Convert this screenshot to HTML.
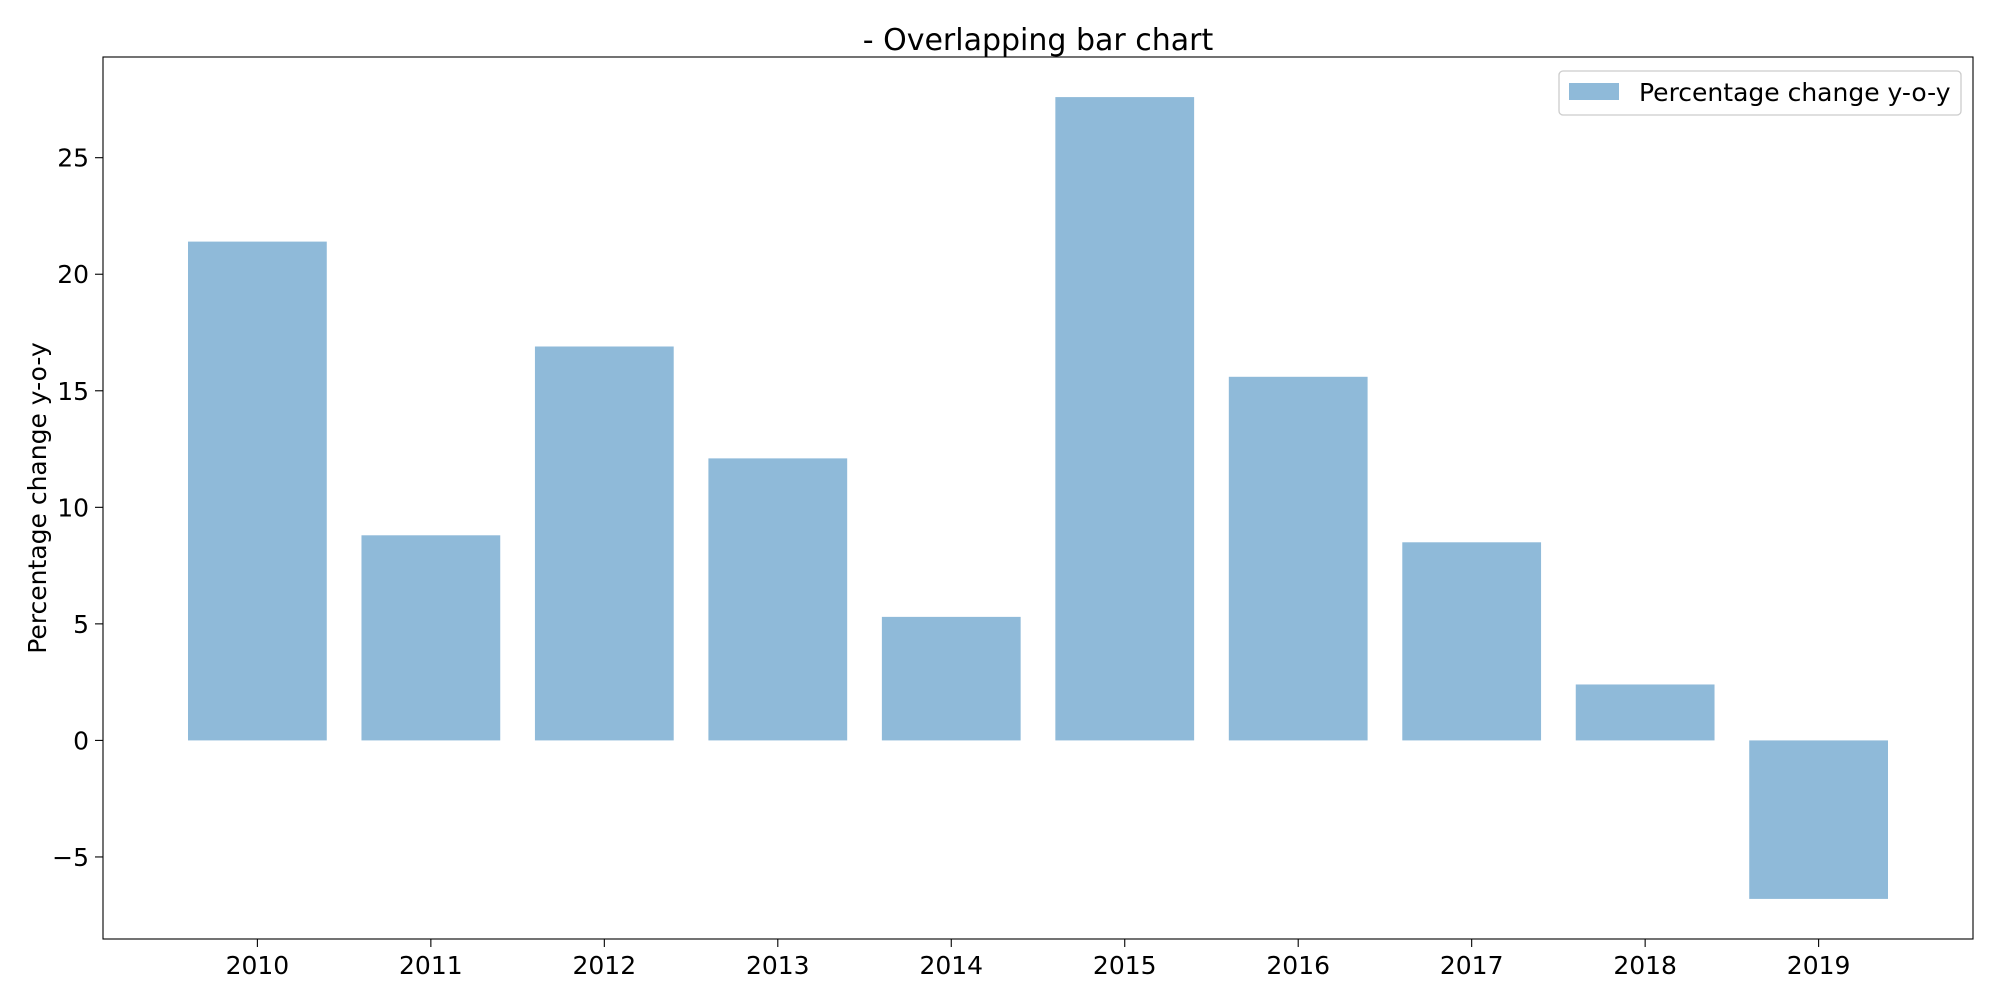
<!DOCTYPE html>
<html><head><meta charset="utf-8"><style>
body{margin:0;background:#fff}
text{font-family:"DejaVu Sans","Liberation Sans",sans-serif;fill:#000}
</style></head><body>
<svg id="chart" width="2000" height="1000" xmlns="http://www.w3.org/2000/svg">
<text x="1038" y="50" font-size="30" text-anchor="middle">- Overlapping bar chart</text>
<text transform="translate(46,498) rotate(-90)" font-size="25" text-anchor="middle">Percentage change y-o-y</text>
<g id="bars"></g><g id="axes"></g>
<g>
<rect x="1559" y="71" width="402" height="44" rx="4" fill="#fff" stroke="#ccc" stroke-width="1.3"/>
<rect x="1569" y="83" width="50" height="17" fill="#8fbad9"/>
<text x="1639" y="101" font-size="25">Percentage change y-o-y</text>
</g>
</svg>
<script>
const categories=["2010","2011","2012","2013","2014","2015","2016","2017","2018","2019"];
const values=[21.4,8.8,16.9,12.1,5.3,27.6,15.6,8.5,2.4,-6.8];
const yTicks=[-5,0,5,10,15,20,25];
const yTickLabels=["\u22125","0","5","10","15","20","25"];
const L=103,R=1973,T=57,B=939;
const ns="http://www.w3.org/2000/svg";
const n=categories.length;
const xr=(n-1+0.8);
const x0=-0.4-xr*0.05, x1=n-1+0.4+xr*0.05;
let vmin=Math.min(0,...values), vmax=Math.max(0,...values), vr=vmax-vmin;
const y0=vmin-vr*0.05, y1=vmax+vr*0.05;
const X=v=>L+(v-x0)/(x1-x0)*(R-L);
const Y=v=>B-(v-y0)/(y1-y0)*(B-T);
function mk(t,a,p){const e=document.createElementNS(ns,t);for(const k in a)e.setAttribute(k,a[k]);p.appendChild(e);return e;}
const bars=document.getElementById('bars'),axes=document.getElementById('axes');
values.forEach((v,i)=>{
 const r=mk('rect',{x:X(i-0.4),width:X(i+0.4)-X(i-0.4),y:Math.min(Y(v),Y(0)),height:Math.abs(Y(v)-Y(0)),fill:'#8fbad9'},bars);
 
 
 const tk=mk('line',{x1:X(i),x2:X(i),y1:B,y2:B+8,stroke:'#000','stroke-width':1.1},axes);
 
 
 const t=mk('text',{x:X(i),y:B+35,'font-size':25,'text-anchor':'middle'},axes);
 t.textContent=categories[i];
 
 
});
yTicks.forEach((v,i)=>{
 const tk=mk('line',{x1:L-8,x2:L,y1:Y(v),y2:Y(v),stroke:'#000','stroke-width':1.1},axes);
 
 
 const t=mk('text',{x:L-14,y:Y(v)+9,'font-size':25,'text-anchor':'end'},axes);
 t.textContent=yTickLabels[i];
 
 
});
const f=mk('rect',{x:L,y:T,width:R-L,height:B-T,fill:'none',stroke:'#000','stroke-width':1.1},axes);


</script>
</body></html>
